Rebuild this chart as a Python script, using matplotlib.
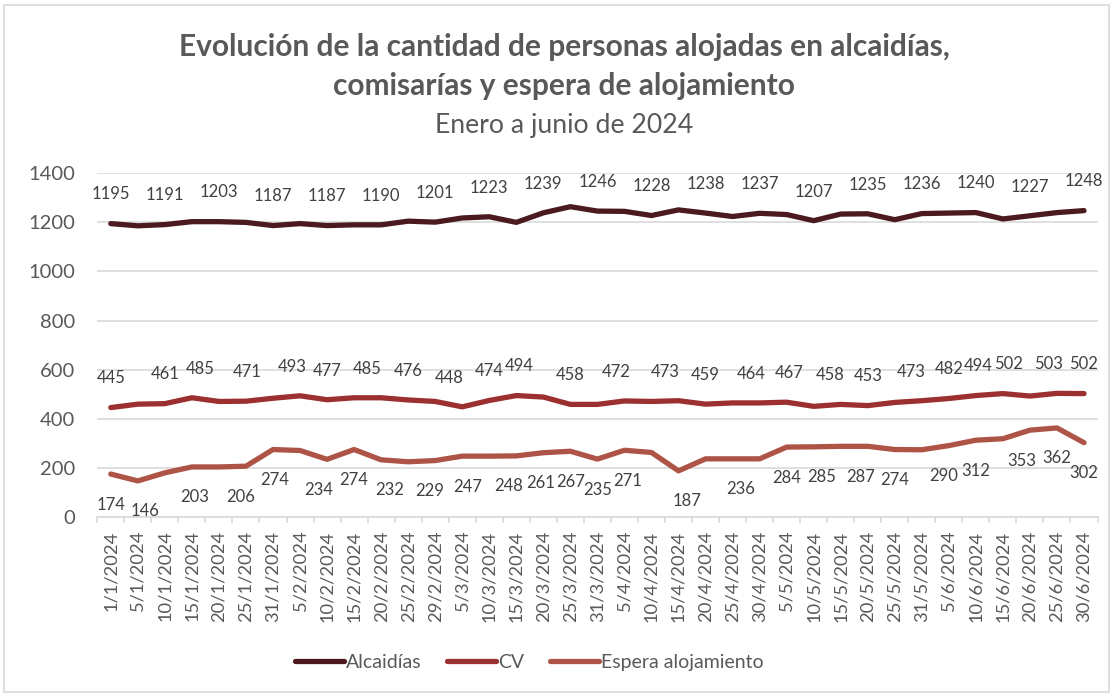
import matplotlib
matplotlib.use("Agg")
import matplotlib.pyplot as plt
from matplotlib.patches import Rectangle
import numpy as np

plt.rcParams['font.family'] = ['Lato', 'DejaVu Sans']

dates = ['1/1/2024', '5/1/2024', '10/1/2024', '15/1/2024', '20/1/2024', '25/1/2024', '31/1/2024',
         '5/2/2024', '10/2/2024', '15/2/2024', '20/2/2024', '25/2/2024', '29/2/2024',
         '5/3/2024', '10/3/2024', '15/3/2024', '20/3/2024', '25/3/2024', '31/3/2024',
         '5/4/2024', '10/4/2024', '15/4/2024', '20/4/2024', '25/4/2024', '30/4/2024',
         '5/5/2024', '10/5/2024', '15/5/2024', '20/5/2024', '25/5/2024', '31/5/2024',
         '5/6/2024', '10/6/2024', '15/6/2024', '20/6/2024', '25/6/2024', '30/6/2024']

alcaidias = [1195, 1186, 1191, 1203, 1203, 1200, 1187, 1195, 1187, 1190, 1190, 1205, 1201,
             1218, 1223, 1200, 1239, 1264, 1246, 1245, 1228, 1251, 1238, 1224, 1237,
             1232, 1207, 1234, 1235, 1211, 1236, 1238, 1240, 1214, 1227, 1240, 1248]
cv = [445, 459, 461, 485, 470, 471, 483, 493, 477, 485, 485, 476, 470,
      448, 474, 494, 488, 458, 458, 472, 470, 473, 459, 464, 464,
      467, 450, 458, 453, 466, 473, 482, 494, 502, 492, 503, 502]
espera = [174, 146, 179, 203, 203, 206, 274, 270, 234, 274, 232, 224, 229,
          247, 247, 248, 261, 267, 235, 271, 262, 187, 236, 236, 236,
          284, 285, 287, 287, 274, 273, 290, 312, 318, 353, 362, 302]

# which points carry a data label, and where the label sits along x
alc_lbl_idx = list(range(0, 37, 2))
alc_lbl_x = alc_lbl_idx
cv_lbl_idx = [0, 2, 3, 5, 7, 8, 9, 11, 13, 14, 15, 17, 19, 21, 22, 24, 25, 27, 28, 30, 31, 32, 33, 35, 36]
cv_lbl_x = [0, 2, 3.3, 5.05, 6.7, 8, 9.5, 11, 12.5, 14, 15.1, 17, 18.7, 20.5, 22, 23.7, 25.1, 26.6, 28,
            29.6, 31, 32.1, 33.2, 34.7, 36]
esp_lbl_idx = [0, 1, 3, 5, 6, 8, 9, 10, 12, 13, 15, 16, 17, 18, 19, 21, 23, 25, 26, 27, 29, 31, 32, 34, 35, 36]
esp_lbl_x = [0, 1.25, 3.1, 4.8, 6.05, 7.7, 9, 10.3, 11.8, 13.2, 14.7, 15.9, 17, 18, 19.1, 21.3, 23.3,
             25, 26.3, 27.75, 29, 30.8, 32, 33.7, 35, 36]

c_alc = '#4a1a1e'
c_cv = '#9c2f2f'
c_esp = '#ad5446'
txt = '#595959'

fig = plt.figure(figsize=(11.13, 6.95), dpi=100)
fig.patches.append(Rectangle((0.004, 0.004), 0.992, 0.989, transform=fig.transFigure,
                             fill=False, edgecolor='#d9d9d9', linewidth=1.2))
ax = fig.add_axes([0.0874, 0.2565, 0.8987, 0.4941])

x = np.arange(len(dates))
series = [(alcaidias, c_alc, 'Alcaidías', alc_lbl_idx, alc_lbl_x, 21),
          (cv, c_cv, 'CV', cv_lbl_idx, cv_lbl_x, 21),
          (espera, c_esp, 'Espera alojamiento', esp_lbl_idx, esp_lbl_x, -22)]
for vals, col, name, idx, lx, dy in series:
    ax.plot(x, vals, color=col, lw=3.8, solid_capstyle='round', solid_joinstyle='round', label=name)
    for i, px in zip(idx, lx):
        ax.annotate(str(vals[i]), (px, vals[i]), xytext=(0, dy), textcoords='offset points',
                    ha='center', va='center', fontsize=12, color='#404040')

ax.set_xlim(-0.5, len(dates) - 0.5)
ax.set_ylim(0, 1400)
ax.set_yticks(range(0, 1401, 200))
ax.grid(axis='y', color='#d9d9d9', lw=1.2)
ax.set_axisbelow(True)
for s in ['top', 'right', 'left']:
    ax.spines[s].set_visible(False)
ax.spines['bottom'].set_color('#d9d9d9')
ax.spines['bottom'].set_linewidth(1.2)

ax.set_xticks(x)
ax.set_xticklabels(dates, rotation=90, fontsize=13.2, color=txt)
ax.set_xticks(np.arange(-0.5, len(dates), 1), minor=True)
ax.tick_params(axis='x', which='major', length=0, pad=10)
ax.tick_params(axis='x', which='minor', length=4, color='#d9d9d9', width=1.2)
ax.tick_params(axis='y', length=0, pad=16, labelsize=14.5, labelcolor=txt)

fig.text(0.507, 0.932, 'Evolución de la cantidad de personas alojadas en alcaidías,',
         ha='center', va='center', fontsize=21.5, fontweight='bold', color=txt)
fig.text(0.507, 0.876, 'comisarías y espera de alojamiento',
         ha='center', va='center', fontsize=21.5, fontweight='bold', color=txt)
fig.text(0.507, 0.820, 'Enero a junio de 2024', ha='center', va='center', fontsize=19.2, color=txt)

fig.legend(loc='center', bbox_to_anchor=(0.4755, 0.047), ncol=3, frameon=False, fontsize=14,
           handlelength=2.5, handletextpad=0.1, columnspacing=1.35, labelcolor=txt)

fig.savefig('out.png', dpi=100)
